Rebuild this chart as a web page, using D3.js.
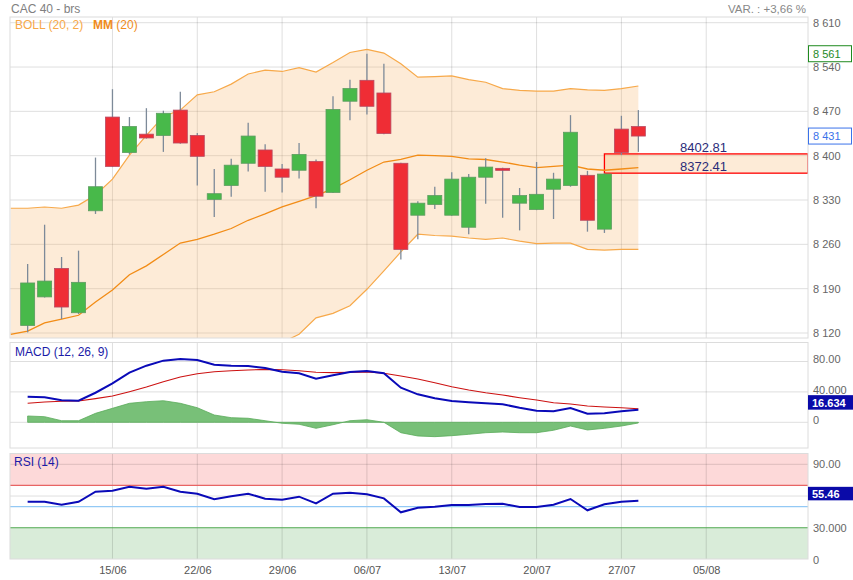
<!DOCTYPE html>
<html>
<head>
<meta charset="utf-8">
<script src="https://cdn.jsdelivr.net/npm/d3@7"></script>
<style>
  body { margin: 0; background: #fff; }
  svg text { font-family: "Liberation Sans", Arial, sans-serif; }
</style>
</head>
<body>
<div id="chart"></div>
<script>
// daily candles, index 0 = first visible session
const openVals  = [8132, 8177, 8222, 8152, 8313, 8461, 8405, 8434, 8432, 8472, 8432, 8331, 8353, 8388, 8409, 8379, 8377, 8391, 8342, 8486, 8519, 8499, 8388, 8306, 8323, 8306, 8287, 8366, 8380, 8325, 8315, 8347, 8353, 8369, 8284, 8442, 8446];
const highVals  = [8229, 8291, 8240, 8250, 8397, 8505, 8461, 8475, 8471, 8501, 8436, 8379, 8395, 8452, 8418, 8387, 8420, 8394, 8494, 8520, 8561, 8545, 8389, 8328, 8351, 8374, 8371, 8396, 8381, 8349, 8390, 8373, 8464, 8376, 8372, 8463, 8472];
const lowVals   = [8121, 8176, 8142, 8150, 8308, 8382, 8402, 8427, 8406, 8419, 8353, 8303, 8335, 8375, 8343, 8342, 8364, 8317, 8341, 8456, 8465, 8434, 8236, 8268, 8316, 8305, 8276, 8324, 8302, 8282, 8314, 8300, 8351, 8280, 8278, 8401, 8406];
const closeVals = [8199, 8202, 8161, 8200, 8351, 8383, 8446, 8428, 8467, 8420, 8399, 8340, 8385, 8431, 8383, 8366, 8402, 8336, 8473, 8506, 8478, 8435, 8252, 8325, 8337, 8363, 8366, 8382, 8377, 8337, 8339, 8363, 8437, 8298, 8371, 8405, 8431];

// bollinger (20, 2), starts one session before the first candle (index -1)
const bollUpper = [8317, 8317, 8319, 8317, 8322, 8338, 8363, 8401, 8432, 8462, 8472, 8496, 8501, 8513, 8529, 8535, 8533, 8539, 8532, 8547, 8563, 8568, 8562, 8545, 8524, 8525, 8526, 8520, 8516, 8506, 8503, 8502, 8502, 8506, 8504, 8503, 8506, 8510];
const bollMid   = [8118, 8123, 8136, 8142, 8148, 8169, 8188, 8212, 8226, 8244, 8262, 8268, 8276, 8285, 8298, 8308, 8319, 8328, 8337, 8348, 8362, 8377, 8390, 8394, 8401, 8400, 8399, 8395, 8394, 8390, 8385, 8381, 8383, 8385, 8379, 8377, 8379, 8381];
const bollLower = [7919, 7929, 7953, 7967, 7974, 8000, 8013, 8023, 8020, 8026, 8052, 8040, 8051, 8057, 8067, 8081, 8105, 8118, 8144, 8151, 8163, 8189, 8218, 8248, 8276, 8274, 8273, 8270, 8268, 8270, 8265, 8261, 8262, 8262, 8252, 8251, 8252, 8252];

// MACD (12, 26, 9)
const macdVals   = [33.7, 32.9, 28.9, 28.4, 38.9, 51.3, 65.3, 74.5, 81.1, 83.3, 82.0, 75.8, 74.5, 74.1, 71.4, 66.6, 64.5, 57.4, 61.8, 66.2, 67.5, 64.5, 45.5, 36.8, 31.6, 28.0, 26.3, 25.0, 23.7, 19.2, 15.3, 14.5, 18.8, 11.3, 11.8, 14.5, 16.634];
const signalVals = [25.0, 26.7, 27.6, 28.0, 31.1, 34.6, 40.3, 46.4, 53.4, 59.6, 63.9, 66.6, 67.9, 68.8, 69.7, 69.2, 67.9, 65.8, 65.3, 65.8, 66.2, 64.5, 60.9, 57.0, 52.1, 46.8, 42.5, 38.9, 35.9, 32.4, 29.3, 25.8, 24.1, 21.4, 20.1, 19.2, 17.9];
const histVals   = [8.3, 7.4, 2.1, 2.1, 11.8, 18.4, 25.0, 27.1, 28.4, 25.0, 19.2, 9.6, 6.1, 5.3, 2.1, -1.3, -2.6, -7.9, -3.2, 2.1, 3.4, 0, -13.7, -18.0, -18.9, -17.6, -15.8, -13.7, -12.8, -13.7, -13.7, -10.5, -4.9, -10.1, -7.9, -4.9, -0.9];

// RSI (14)
const rsiVals = [54.6, 54.6, 51.8, 54.6, 64.1, 65.0, 68.8, 66.9, 68.8, 64.1, 62.2, 56.9, 59.7, 62.2, 57.5, 56.5, 59.4, 53.1, 62.2, 63.1, 61.6, 57.8, 44.6, 49.0, 49.9, 51.5, 51.5, 52.5, 52.7, 49.6, 49.6, 51.8, 57.2, 46.5, 52.2, 54.6, 55.46];

// axes
const xTickIdx = [5, 10, 15, 20, 25, 30, 35, 40];
const xTickLabels = ["15/06", "22/06", "29/06", "06/07", "13/07", "20/07", "27/07", "05/08"];
const priceTicks = [8120, 8190, 8260, 8330, 8400, 8470, 8540, 8610];
const macdTicks = [0, 40, 80];
const macdTickLabels = ["0", "40.000", "80.00"];
const rsiGrid = [60, 90];
const rsiTicks = [0, 30, 90];
const rsiTickLabels = ["0", "30.000", "90.00"];

const zoneHigh = 8402.81, zoneLow = 8372.41, zoneStart = 34;
const lastHigh = 8561, lastClose = 8431;

const width = 853, height = 580;
const left = 10, right = 808;
const mainTop = 17, mainBottom = 338;
const macdTop = 342.5, macdBottom = 448;
const rsiTop = 453.5, rsiBottom = 559;

const svg = d3.select("#chart").append("svg")
  .attr("width", width)
  .attr("height", height);

const x = d3.scaleLinear().domain([-1.04, 46]).range([left, right]);
const y = d3.scaleLinear().domain([8120, 8610]).range([333, 22.7]);
const yMacd = d3.scaleLinear().domain([0, 80]).range([422.3, 361.5]);
const yRsi = d3.scaleLinear().domain([0, 90]).range([559.5, 464.3]);

const spaced = d => d3.format(",")(d).replace(",", " ");

function clip(id, top, bottom) {
  svg.append("clipPath").attr("id", id)
    .append("rect")
    .attr("x", left).attr("y", top)
    .attr("width", right - left).attr("height", bottom - top);
}
clip("clipMain", mainTop, mainBottom);
clip("clipMacd", macdTop, macdBottom);
clip("clipRsi", rsiTop, rsiBottom);

function grid(top, bottom, hValues, scale) {
  const g = svg.append("g").attr("stroke", "#000").attr("stroke-opacity", 0.13);
  g.selectAll(".v").data(xTickIdx).enter().append("line")
    .attr("x1", d => x(d)).attr("x2", d => x(d))
    .attr("y1", top).attr("y2", bottom);
  g.selectAll(".h").data(hValues).enter().append("line")
    .attr("x1", left).attr("x2", right)
    .attr("y1", d => scale(d)).attr("y2", d => scale(d));
}

function frame(top, bottom) {
  svg.append("rect")
    .attr("x", left).attr("y", top)
    .attr("width", right - left).attr("height", bottom - top)
    .attr("fill", "none")
    .attr("stroke", "#dcdcdc");
}

// ---------- price panel ----------
grid(mainTop, mainBottom, priceTicks, y);

const main = svg.append("g").attr("clip-path", "url(#clipMain)");
const bandIdx = d3.range(-1, bollUpper.length - 1);

main.append("path")
  .datum(bandIdx)
  .attr("fill", "rgb(248,178,100)")
  .attr("fill-opacity", 0.26)
  .attr("d", d3.area()
    .x(i => x(i))
    .y0(i => y(bollLower[i + 1]))
    .y1(i => y(bollUpper[i + 1])));

main.append("rect")
  .attr("x", x(zoneStart))
  .attr("y", y(zoneHigh))
  .attr("width", right - x(zoneStart))
  .attr("height", y(zoneLow) - y(zoneHigh))
  .attr("fill", "rgb(248,178,100)")
  .attr("fill-opacity", 0.26)
  .attr("stroke", "#ff0000")
  .attr("stroke-width", 1.3);

[[bollUpper, "#f7a94a", 1.2], [bollLower, "#f7a94a", 1.2], [bollMid, "#f28c16", 1.3]].forEach(([vals, col, w]) => {
  main.append("path")
    .datum(bandIdx)
    .attr("fill", "none")
    .attr("stroke", col)
    .attr("stroke-width", w)
    .attr("d", d3.line().x(i => x(i)).y(i => y(vals[i + 1])));
});

const candles = main.selectAll(".candle")
  .data(d3.range(openVals.length))
  .enter().append("g");

candles.append("line")
  .attr("x1", i => x(i)).attr("x2", i => x(i))
  .attr("y1", i => y(highVals[i])).attr("y2", i => y(lowVals[i]))
  .attr("stroke", "#7d8a99")
  .attr("stroke-width", 1.3);

candles.append("rect")
  .attr("x", i => x(i) - 7)
  .attr("width", 14)
  .attr("y", i => y(Math.max(openVals[i], closeVals[i])))
  .attr("height", i => Math.max(2, Math.abs(y(openVals[i]) - y(closeVals[i]))))
  .attr("fill", i => closeVals[i] >= openVals[i] ? "#48b94a" : "#ef2d35")
  .attr("stroke", i => closeVals[i] >= openVals[i] ? "#5c9c60" : "#b84a62")
  .attr("stroke-width", 0.8);

svg.append("text")
  .attr("x", 680).attr("y", y(zoneHigh) - 2)
  .attr("fill", "#2b2b78").attr("font-size", 13)
  .text(zoneHigh.toFixed(2));
svg.append("text")
  .attr("x", 680).attr("y", y(zoneLow) - 2)
  .attr("fill", "#2b2b78").attr("font-size", 13)
  .text(zoneLow.toFixed(2));

frame(mainTop, mainBottom);

svg.append("g")
  .attr("transform", "translate(" + right + ",0)")
  .call(d3.axisRight(y).tickValues(priceTicks).tickSize(0).tickPadding(5).tickFormat(spaced))
  .call(g => g.select(".domain").remove())
  .selectAll("text")
  .attr("fill", "#666")
  .attr("font-size", 11);

[[lastHigh, "#1f8a1f"], [lastClose, "#3a72ea"]].forEach(([v, col]) => {
  svg.append("rect")
    .attr("x", right + 0.5).attr("y", y(v) - 8)
    .attr("width", 43).attr("height", 16)
    .attr("fill", "#fff").attr("stroke", col);
  svg.append("text")
    .attr("x", right + 5).attr("y", y(v)).attr("dy", "0.35em")
    .attr("fill", col).attr("font-size", 11)
    .text(spaced(v));
});

svg.append("text").attr("x", 11).attr("y", 13)
  .attr("fill", "#808080").attr("font-size", 12)
  .text("CAC 40 - brs");
svg.append("text").attr("x", 806).attr("y", 13)
  .attr("text-anchor", "end")
  .attr("fill", "#888").attr("font-size", 11.5)
  .text("VAR. : +3,66 %");
svg.append("text").attr("x", 15).attr("y", 29)
  .attr("fill", "#f7a848").attr("font-size", 12)
  .text("BOLL (20, 2)");
const mm = svg.append("text").attr("x", 93).attr("y", 29)
  .attr("fill", "#f08c1a").attr("font-size", 12);
mm.append("tspan").attr("font-weight", "bold").text("MM");
mm.append("tspan").text(" (20)");

// ---------- MACD panel ----------
grid(macdTop, macdBottom, macdTicks, yMacd);
const macdG = svg.append("g").attr("clip-path", "url(#clipMacd)");
const idx = d3.range(macdVals.length);

macdG.append("path")
  .datum(idx)
  .attr("fill", "#78c078")
  .attr("stroke", "#5aab5a")
  .attr("stroke-width", 0.8)
  .attr("d", d3.area().x(i => x(i)).y0(yMacd(0)).y1(i => yMacd(histVals[i])));

macdG.append("path")
  .datum(idx)
  .attr("fill", "none")
  .attr("stroke", "#cc1111")
  .attr("stroke-width", 1.1)
  .attr("d", d3.line().x(i => x(i)).y(i => yMacd(signalVals[i])));

macdG.append("path")
  .datum(idx)
  .attr("fill", "none")
  .attr("stroke", "#0a0ab8")
  .attr("stroke-width", 2)
  .attr("d", d3.line().x(i => x(i)).y(i => yMacd(macdVals[i])));

frame(macdTop, macdBottom);

svg.append("g")
  .attr("transform", "translate(" + right + ",0)")
  .call(d3.axisRight(yMacd).tickValues(macdTicks).tickSize(0).tickPadding(5)
    .tickFormat((d, i) => macdTickLabels[i]))
  .call(g => g.select(".domain").remove())
  .selectAll("text")
  .attr("dy", "0.1em")
  .attr("fill", "#666")
  .attr("font-size", 11);

const lastMacd = macdVals[macdVals.length - 1];
svg.append("rect")
  .attr("x", right).attr("y", yMacd(lastMacd) - 14.5)
  .attr("width", 45).attr("height", 14.5)
  .attr("fill", "#0a0aa8");
svg.append("text")
  .attr("x", right + 4).attr("y", yMacd(lastMacd) - 3)
  .attr("fill", "#fff").attr("font-size", 11).attr("font-weight", "bold")
  .text(lastMacd.toFixed(3));

svg.append("text").attr("x", 15).attr("y", 356)
  .attr("fill", "#1a1aa8").attr("font-size", 12)
  .text("MACD (12, 26, 9)");

// ---------- RSI panel ----------
svg.append("rect")
  .attr("x", left).attr("y", rsiTop)
  .attr("width", right - left).attr("height", yRsi(70) - rsiTop)
  .attr("fill", "#fdd9d9");
svg.append("rect")
  .attr("x", left).attr("y", yRsi(30))
  .attr("width", right - left).attr("height", rsiBottom - yRsi(30))
  .attr("fill", "#d9ecd9");

grid(rsiTop, rsiBottom, rsiGrid, yRsi);

[[70, "#e86464"], [50, "#93c9f5"], [30, "#4fa84f"]].forEach(([lv, col]) => {
  svg.append("line")
    .attr("x1", left).attr("x2", right)
    .attr("y1", yRsi(lv)).attr("y2", yRsi(lv))
    .attr("stroke", col).attr("stroke-width", 1.2);
});

svg.append("g").attr("clip-path", "url(#clipRsi)")
  .append("path")
  .datum(idx)
  .attr("fill", "none")
  .attr("stroke", "#0a0ab8")
  .attr("stroke-width", 2)
  .attr("d", d3.line().x(i => x(i)).y(i => yRsi(rsiVals[i])));

frame(rsiTop, rsiBottom);

svg.append("g")
  .attr("transform", "translate(" + right + ",0)")
  .call(d3.axisRight(yRsi).tickValues(rsiTicks).tickSize(0).tickPadding(5)
    .tickFormat((d, i) => rsiTickLabels[i]))
  .call(g => g.select(".domain").remove())
  .selectAll("text")
  .attr("fill", "#666")
  .attr("font-size", 11);

const lastRsi = rsiVals[rsiVals.length - 1];
svg.append("rect")
  .attr("x", right).attr("y", yRsi(lastRsi) - 14)
  .attr("width", 45).attr("height", 13.5)
  .attr("fill", "#0a0aa8");
svg.append("text")
  .attr("x", right + 4).attr("y", yRsi(lastRsi) - 3)
  .attr("fill", "#fff").attr("font-size", 11).attr("font-weight", "bold")
  .text(lastRsi.toFixed(2));

svg.append("text").attr("x", 14).attr("y", 466)
  .attr("fill", "#1a1aa8").attr("font-size", 12)
  .text("RSI (14)");

// ---------- date axis ----------
svg.append("g")
  .attr("transform", "translate(0," + rsiBottom + ")")
  .call(d3.axisBottom(x).tickValues(xTickIdx).tickSize(0).tickPadding(7)
    .tickFormat((d, i) => xTickLabels[i]))
  .call(g => g.select(".domain").remove())
  .selectAll("text")
  .attr("fill", "#555")
  .attr("font-size", 11);
</script>
</body>
</html>
